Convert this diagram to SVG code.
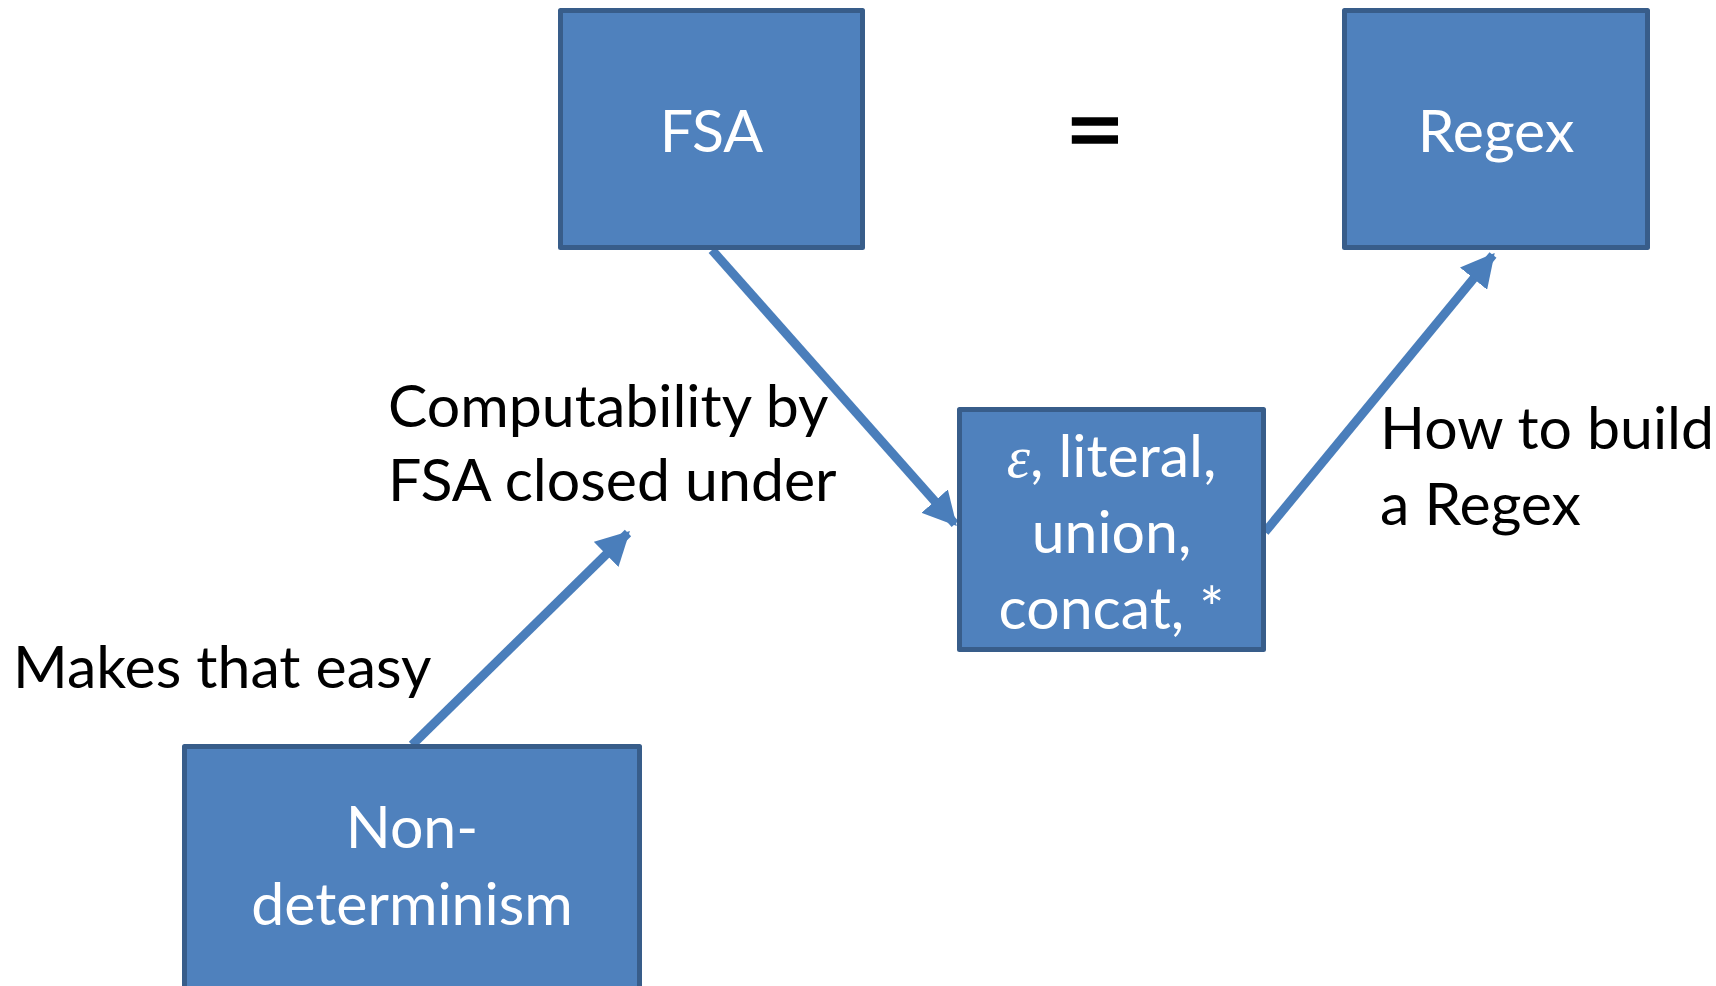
<svg xmlns="http://www.w3.org/2000/svg" width="1716" height="986" viewBox="0 0 1716 986">
  <style>
    .box { fill: #4F81BD; stroke: #385D8A; stroke-width: 5; stroke-linejoin: round; }
    .boxtext { font-family: Lato, "Noto Sans", "Liberation Sans", sans-serif; font-size: 59px; fill: #FFFFFF; text-anchor: middle; }
    .label { font-family: Lato, "Noto Sans", "Liberation Sans", sans-serif; font-size: 59px; fill: #000000; }
    .eq { font-family: Lato, "Noto Sans", "Liberation Sans", sans-serif; font-size: 104px; fill: #000000; text-anchor: middle; stroke: #000000; stroke-width: 1.5; }
    .eps { font-family: "Liberation Serif", "DejaVu Serif", serif; font-style: italic; }
    .conn { stroke: #4A7EBB; stroke-width: 9; fill: none; marker-end: url(#head); }
  </style>
  <defs>
    <marker id="head" markerUnits="strokeWidth" markerWidth="3.7" markerHeight="3.9" viewBox="0 0 3.7 3.9" refX="3.4" refY="1.95" orient="auto">
      <path d="M0,0 L3.7,1.95 L0,3.9 Z" fill="#4A7EBB"/>
    </marker>
  </defs>

  <rect width="1716" height="986" fill="#FFFFFF"/>

  <!-- connectors -->
  <g id="connectors">
    <line class="conn" x1="712" y1="250" x2="955" y2="524"/>
    <line class="conn" x1="412" y1="745" x2="628" y2="533"/>
    <line class="conn" x1="1265" y1="532" x2="1493" y2="255"/>
  </g>

  <!-- nodes -->
  <g id="fsa">
    <rect class="box" x="560.5" y="10.5" width="302" height="237"/>
    <text class="boxtext" x="711.5" y="152">FSA</text>
  </g>

  <g id="regex">
    <rect class="box" x="1344.5" y="10.5" width="303" height="237"/>
    <text class="boxtext" x="1496" y="152">Regex</text>
  </g>

  <g id="closure-ops">
    <rect class="box" x="959.5" y="409.5" width="304" height="240"/>
    <text class="boxtext" x="1111.5" y="477"><tspan class="eps">ε</tspan>, literal,</text>
    <text class="boxtext" x="1111.5" y="553">union,</text>
    <text class="boxtext" x="1111.5" y="629">concat, *</text>
  </g>

  <g id="nondeterminism">
    <rect class="box" x="184.5" y="746.5" width="455" height="245"/>
    <text class="boxtext" x="412" y="848">Non-</text>
    <text class="boxtext" x="412" y="925">determinism</text>
  </g>

  <!-- free labels -->
  <g id="labels">
    <text class="eq" x="1095" y="166">=</text>
    <text class="label" x="388" y="427">Computability by</text>
    <text class="label" x="388" y="501">FSA closed under</text>
    <text class="label" x="13" y="688">Makes that easy</text>
    <text class="label" x="1380" y="449">How to build</text>
    <text class="label" x="1380" y="525">a Regex</text>
  </g>
</svg>
